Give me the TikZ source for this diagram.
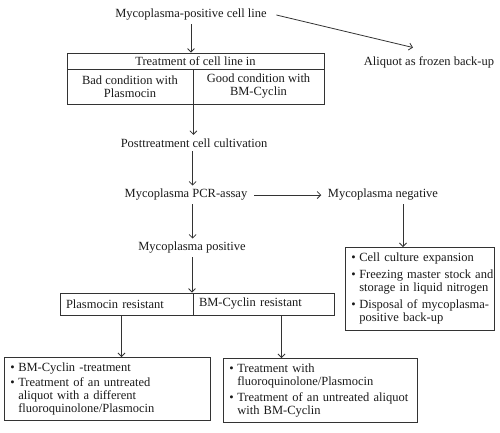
\documentclass[tikz,border=0pt]{standalone}
\usepackage{fontspec}
\setmainfont{Liberation Serif}
\usetikzlibrary{arrows.meta}
\begin{document}
\begin{tikzpicture}[x=1pt,y=-1pt,font=\fontsize{12.5}{13}\selectfont,
  line width=0.8pt,draw=black!80,text=black!90,
  >={Straight Barb[length=3.5pt,width=7pt]},
  cell/.style={draw,inner sep=0pt,align=center},
  listbox/.style={draw,anchor=north west,inner xsep=6pt,inner ysep=0pt,align=left}]
\useasboundingbox (0,0) rectangle (500,432);

% top of the chart
\node (cellline) at (191,15) {Mycoplasma-positive cell line};
\node (aliquot) at (429,62) {Aliquot as frozen back-up};
\draw[->] ([xshift=6pt]cellline.east) -- ([xshift=-16pt,yshift=5pt]aliquot.north);

\node[cell,minimum width=257,minimum height=16] (treat) at (195.5,61) {Treatment of cell line in};
\node[cell,minimum width=126,minimum height=35] (bad) at (130,86.5) {Bad condition with\\Plasmocin};
\node[cell,minimum width=131,minimum height=35] (good) at (258.5,86.5) {Good condition with\\BM-Cyclin};
\draw[->] (cellline.south) -- (cellline.south |- treat.north);

% testing
\node (post) at (194,143) {Posttreatment cell cultivation};
\node (pcr) at (186,195) {Mycoplasma PCR-assay};
\node (neg) at (383,195) {Mycoplasma negative};
\node (pos) at (192,248) {Mycoplasma positive};
\draw[->] (bad.south east) -- (bad.south east |- post.north);
\draw[->] (post.south -| good.south west) -- (pcr.north -| good.south west);
\draw[->] (pcr.south -| good.south west) -- (pos.north -| good.south west);
\draw[->] ([xshift=3pt]pcr.east) -- ([xshift=-3pt]neg.west);

\node[listbox,minimum width=149,minimum height=83,text width=137] (negbox) at (345,247)
  {\begin{tabular}{@{}l@{\hspace{3.5pt}}l@{}}
   \textbullet & Cell culture expansion\\[4pt]
   \textbullet & Freezing master stock and\\
               & storage in liquid nitrogen\\[4pt]
   \textbullet & Disposal of mycoplasma-\\
               & positive back-up
   \end{tabular}};
\draw[->] ([xshift=20pt]neg.south) -- ([xshift=20pt]neg.south |- negbox.north);

% resistance
\node[cell,minimum height=22,inner xsep=6pt,text width=121,align=left] (plasres) at (126.5,304) {Plasmocin resistant};
\node[cell,minimum height=22,inner xsep=6pt,text width=129,align=left] (bmres) at (263.5,304) {BM-Cyclin resistant};
\draw[->] (pos.south) -- (pos.south |- plasres.north);

\node[listbox,minimum width=206,minimum height=63,text width=194] (leftbox) at (4,357)
  {\begin{tabular}{@{}l@{\hspace{3.5pt}}l@{}}
   \textbullet & BM-Cyclin -treatment\\[2pt]
   \textbullet & Treatment of an untreated\\
               & aliquot with a different\\
               & fluoroquinolone/Plasmocin
   \end{tabular}};
\node[listbox,minimum width=194,minimum height=64,text width=182] (rightbox) at (223,358)
  {\begin{tabular}{@{}l@{\hspace{3.5pt}}l@{}}
   \textbullet & Treatment with\\
               & fluoroquinolone/Plasmocin\\[3pt]
   \textbullet & Treatment of an untreated aliquot\\
               & with BM-Cyclin
   \end{tabular}};
\draw[->] ([xshift=-5pt]plasres.south) -- ([xshift=-5pt]plasres.south |- leftbox.north);
\draw[->] ([xshift=18pt]bmres.south) -- ([xshift=18pt]bmres.south |- rightbox.north);

\end{tikzpicture}
\end{document}
